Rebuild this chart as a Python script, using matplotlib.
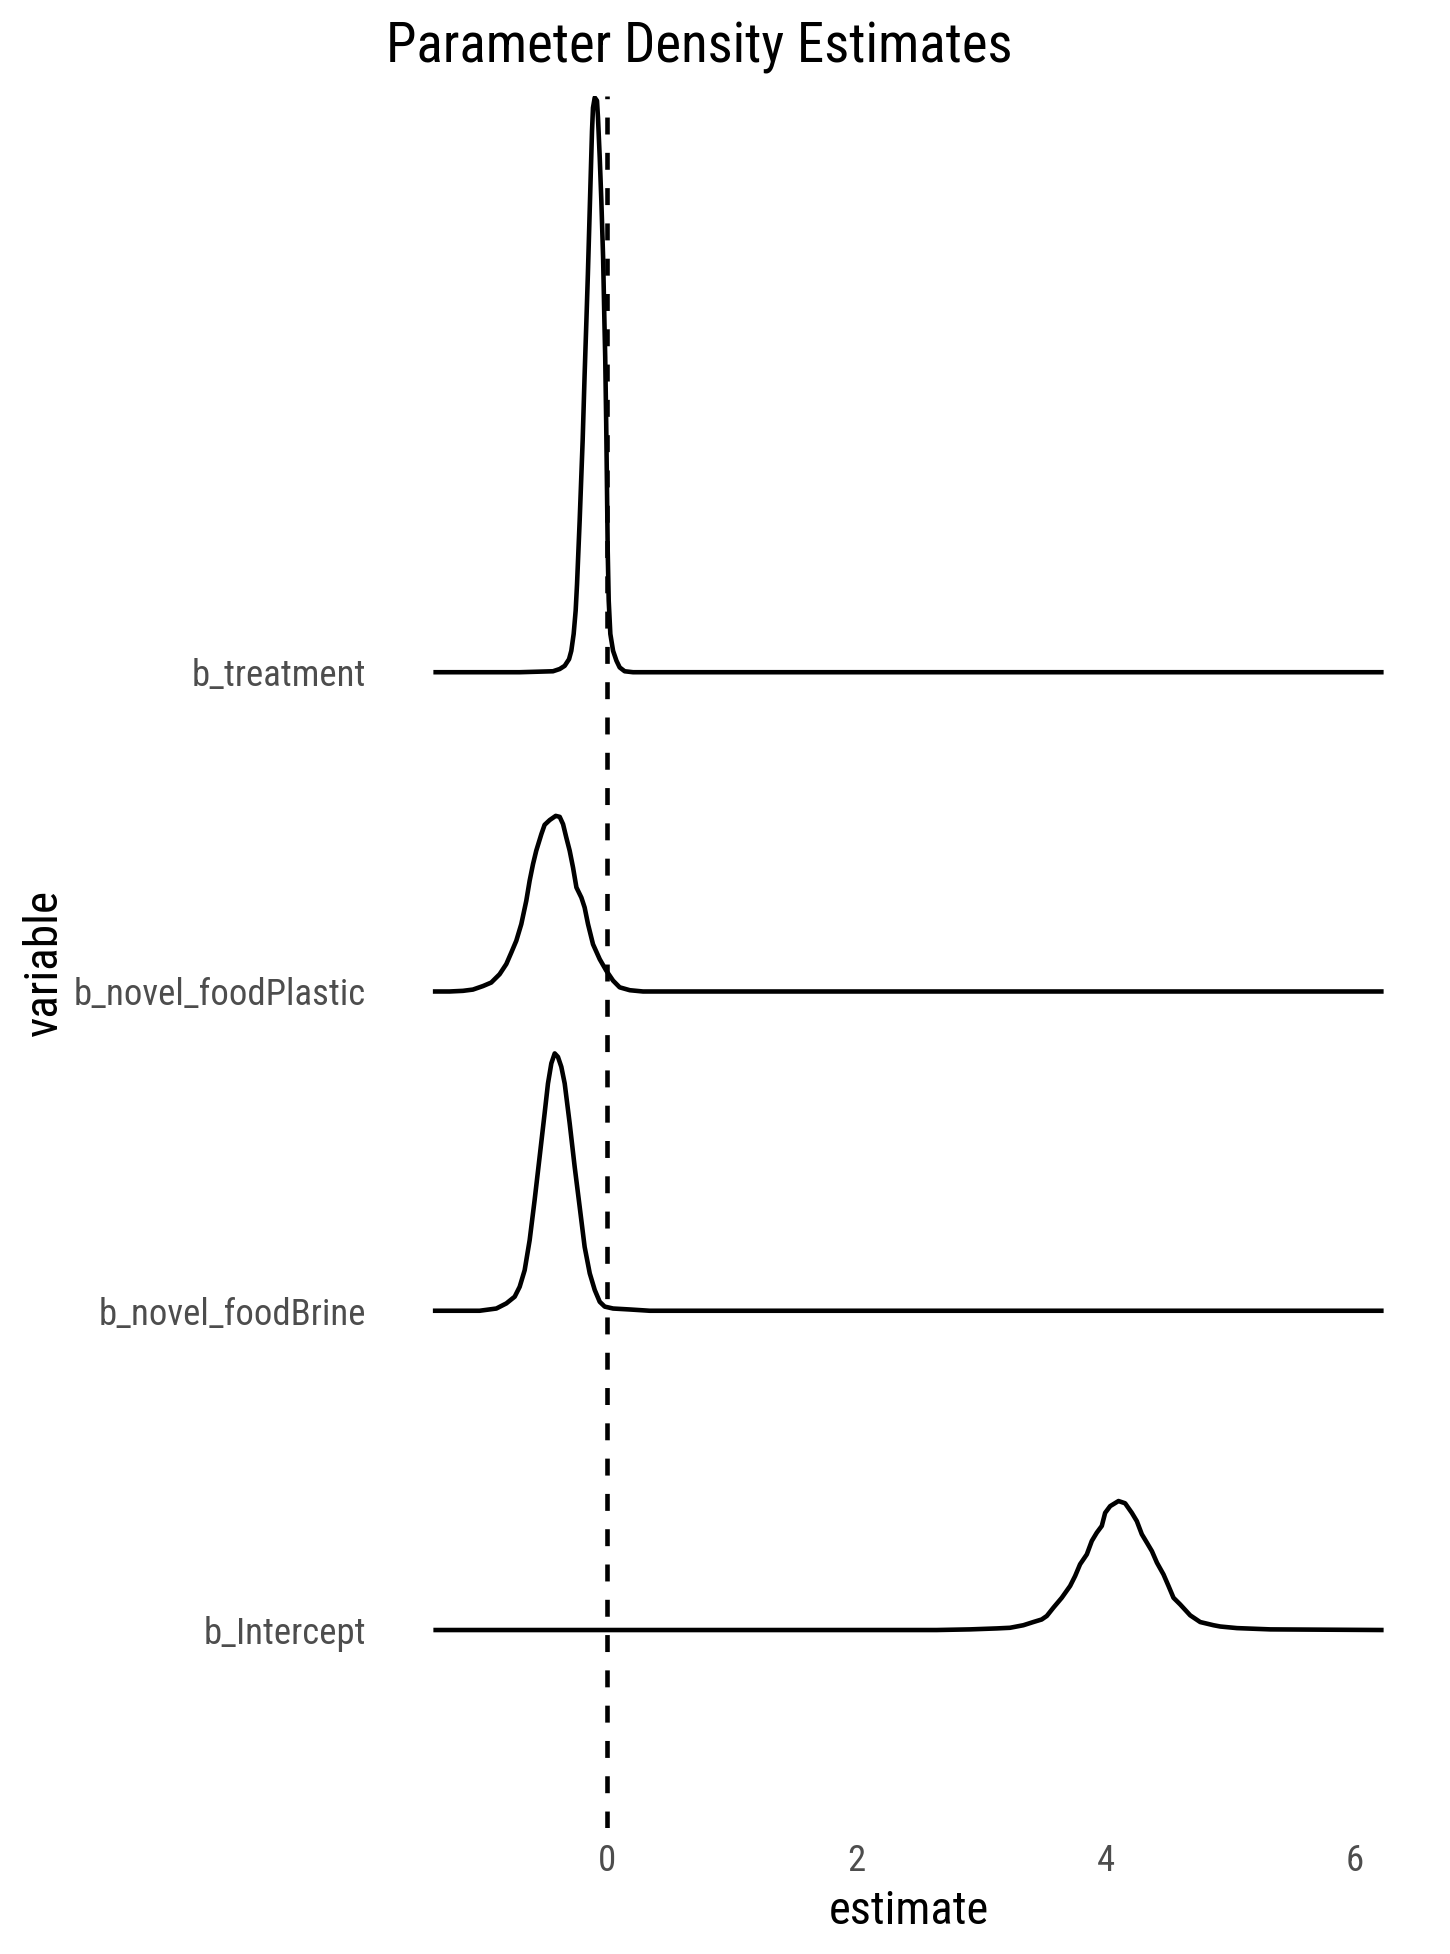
import matplotlib
matplotlib.use('Agg')
import matplotlib.pyplot as plt

plt.rcParams['font.family'] = ['Roboto Condensed', 'Liberation Sans Narrow', 'Roboto']

# ridge rows, bottom to top
variables = ['b_Intercept', 'b_novel_foodBrine', 'b_novel_foodPlastic', 'b_treatment']

# density outlines (height in row units)
intercept_x = [-1.39, 2.111, 2.646, 2.913, 3.127, 3.234, 3.341, 3.421, 3.488, 3.529, 3.582,
               3.649, 3.716, 3.756, 3.796, 3.85, 3.89, 3.93, 3.97, 3.997, 4.037, 4.104,
               4.157, 4.211, 4.251, 4.291, 4.331, 4.372, 4.412, 4.465, 4.505, 4.545,
               4.599, 4.679, 4.759, 4.866, 4.92, 5.054, 5.321, 6.23]
intercept_h = [0.0, 0.0, 0.0, 0.002, 0.005, 0.007, 0.015, 0.025, 0.033, 0.044, 0.070,
               0.101, 0.138, 0.169, 0.206, 0.237, 0.279, 0.305, 0.326, 0.367, 0.388, 0.404,
               0.397, 0.367, 0.341, 0.300, 0.274, 0.247, 0.211, 0.174, 0.138, 0.101,
               0.080, 0.046, 0.025, 0.015, 0.011, 0.006, 0.002, 0.0]

brine_x = [-1.394, -1.019, -0.885, -0.805, -0.738, -0.698, -0.658, -0.618, -0.578, -0.538,
           -0.498, -0.471, -0.444, -0.417, -0.391, -0.364, -0.337, -0.297, -0.257, -0.217,
           -0.177, -0.136, -0.096, -0.056, -0.016, 0.051, 0.185, 0.345, 6.23]
brine_h = [0.0, 0.0, 0.007, 0.023, 0.044, 0.075, 0.127, 0.221, 0.347, 0.482,
           0.618, 0.712, 0.775, 0.806, 0.795, 0.764, 0.712, 0.587, 0.451, 0.326,
           0.2, 0.117, 0.065, 0.028, 0.013, 0.007, 0.004, 0.0, 0.0]

plastic_x = [-1.394, -1.26, -1.153, -1.073, -0.992, -0.926, -0.859, -0.805, -0.765, -0.725,
             -0.685, -0.645, -0.618, -0.591, -0.565, -0.524, -0.498, -0.457, -0.409, -0.377,
             -0.35, -0.324, -0.297, -0.27, -0.243, -0.203, -0.177, -0.15, -0.11, -0.056,
             -0.003, 0.051, 0.104, 0.185, 0.291, 6.23]
plastic_h = [0.0, 0.0, 0.002, 0.006, 0.017, 0.028, 0.054, 0.086, 0.122, 0.159,
             0.211, 0.284, 0.347, 0.399, 0.441, 0.493, 0.522, 0.537, 0.55, 0.547,
             0.524, 0.482, 0.441, 0.388, 0.326, 0.294, 0.263, 0.211, 0.148, 0.101,
             0.065, 0.034, 0.013, 0.004, 0.0, 0.0]

treatment_x = [-1.39, -0.698, -0.431, -0.377, -0.337, -0.302, -0.284, -0.265, -0.249, -0.238,
               -0.227, -0.217, -0.205, -0.193, -0.177, -0.163, -0.151, -0.138, -0.128, -0.118,
               -0.11, -0.096, -0.078, -0.07, -0.056, -0.043, -0.029, -0.018, -0.012, -0.004,
               0.003, 0.008, 0.016, 0.029, 0.051, 0.078, 0.104, 0.144, 0.211, 6.23]
treatment_h = [0.0, 0.0, 0.003, 0.010, 0.020, 0.041, 0.067, 0.12, 0.193, 0.276,
               0.38, 0.474, 0.60, 0.725, 0.934, 1.10, 1.247, 1.424, 1.56, 1.695,
               1.768, 1.80, 1.79, 1.737, 1.612, 1.476, 1.299, 1.09, 0.986, 0.777,
               0.55, 0.38, 0.224, 0.12, 0.067, 0.036, 0.015, 0.003, 0.0, 0.0]

curves = [(intercept_x, intercept_h), (brine_x, brine_h),
          (plastic_x, plastic_h), (treatment_x, treatment_h)]
x_ticks = [0, 2, 4, 6]

fig = plt.figure(figsize=(14.5, 19.54), dpi=100)
ax = fig.add_axes([0.2662, 0.0645, 0.7207, 0.8864])

for i, (xs, hs) in enumerate(curves):
    base = i + 1
    ax.plot(xs, [base + h for h in hs], color='black', lw=3.3,
            solid_joinstyle='round', solid_capstyle='butt')

# reference line at zero
ax.axvline(0, color='black', lw=3.3, linestyle=(0, (3.7, 4.0)))

ax.set_xlim(-1.77, 6.61)
ax.set_ylim(0.38, 5.805)
ax.set_xticks(x_ticks)
ax.set_yticks(range(1, len(variables) + 1))
ax.set_yticklabels(variables)
ax.tick_params(length=0, labelsize=26.5, labelcolor='#4D4D4D')
ax.tick_params(axis='y', pad=14.4)
ax.tick_params(axis='x', pad=10.5)
for s in ax.spines.values():
    s.set_visible(False)

ax.set_xlabel('estimate', fontsize=33.5, va='center')
ax.xaxis.set_label_coords(0.5, -0.048)
ax.set_ylabel('variable', fontsize=34, va='center')
ax.yaxis.set_label_coords(-0.327, 0.5)
ax.set_title('Parameter Density Estimates', loc='left', fontsize=39.5, y=1.023, va='center')

plt.savefig('out.png', dpi=100)
plt.close()
